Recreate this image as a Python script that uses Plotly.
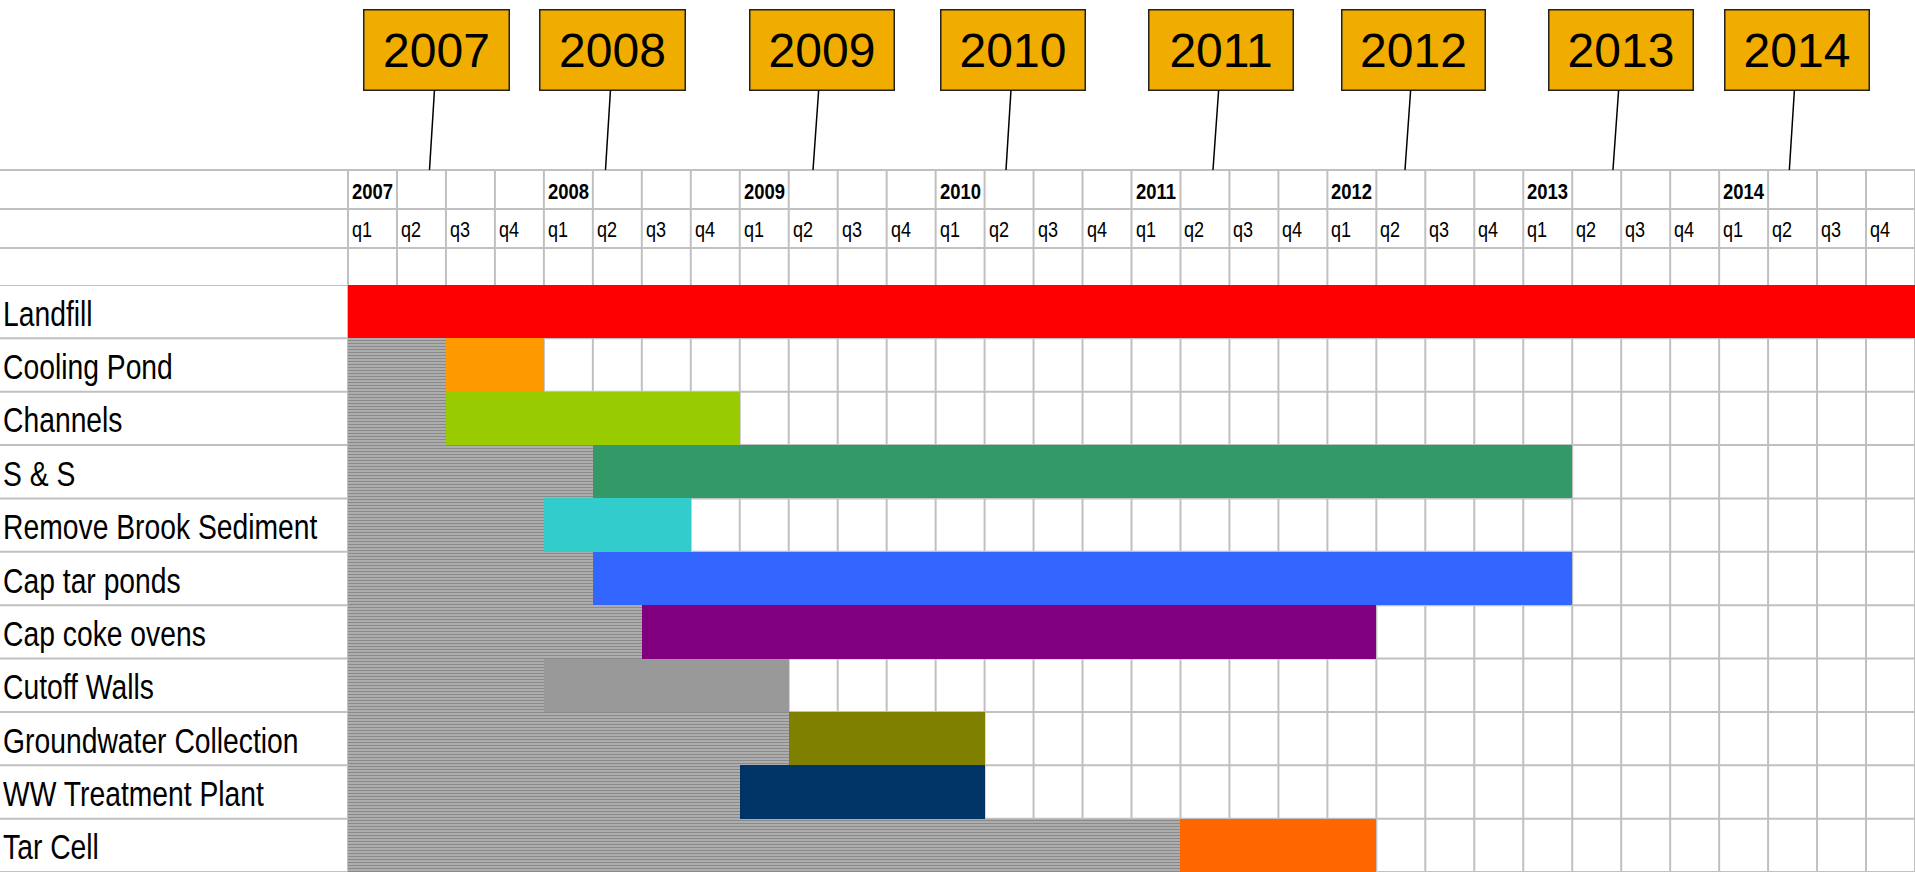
import plotly.graph_objects as go

# ---------------- data ----------------
tasks = ["Landfill", "Cooling Pond", "Channels", "S & S", "Remove Brook Sediment",
         "Cap tar ponds", "Cap coke ovens", "Cutoff Walls", "Groundwater Collection",
         "WW Treatment Plant", "Tar Cell"]
# start / duration in quarters, counted from 2007 q1
start_q = [0, 2, 2, 5, 4, 5, 6, 4, 9, 8, 17]
duration_q = [32, 2, 6, 20, 3, 20, 15, 5, 4, 5, 4]
bar_colors = ["#FF0000", "#FF9900", "#99CC00", "#339966", "#33CCCC", "#3366FF",
              "#800080", "#999999", "#808000", "#003366", "#FF6600"]
years = [2007, 2008, 2009, 2010, 2011, 2012, 2013, 2014]
quarter_labels = ["q1", "q2", "q3", "q4"]

# callout boxes (layout): anchor on the timeline in quarter units, box offset/width in px
callout_x = [1.664, 5.258, 9.496, 13.437, 17.664, 21.585, 25.832, 29.434]
callout_dx = [7.5, 7.5, 8.5, 7.5, 8.5, 8.5, 8.5, 7.6]
callout_w = [146, 146, 145, 145, 145, 144, 145, 145]

# ---------------- layout geometry ----------------
W, H = 1915, 872
LABEL_W = 348
n_q = len(years) * 4
q_px = (W - LABEL_W) / n_q
x0 = -LABEL_W / q_px
TOP = 285
HDR = [170, 209, 248]
def py(p):
    return 1 - p / H

FONT = "Liberation Sans, Arial, sans-serif"
GRID = "#C0C0C0"

fig = go.Figure()
fig.add_trace(go.Bar(
    y=tasks, x=start_q, base=0, orientation="h",
    marker=dict(color="white", line=dict(width=0),
                pattern=dict(shape="-", fgcolor="#8A8A8A", bgcolor="white",
                             size=3, solidity=0.8, fillmode="replace")),
    showlegend=False, hoverinfo="skip"))
fig.add_trace(go.Bar(
    y=tasks, x=duration_q, base=start_q, orientation="h",
    marker=dict(color=bar_colors, line=dict(width=0)),
    showlegend=False))

shapes = []
# vertical quarter lines (chart + header)
for i in range(n_q + 1):
    shapes.append(dict(type="line", xref="x", yref="paper", x0=i, x1=i,
                       y0=0, y1=py(HDR[0]), line=dict(color=GRID, width=2), layer="below"))
# header horizontal lines
for hy in HDR:
    shapes.append(dict(type="line", xref="paper", yref="paper", x0=0, x1=1,
                       y0=py(hy), y1=py(hy), line=dict(color=GRID, width=2), layer="below"))
# row boundaries
for r in range(len(tasks) + 1):
    shapes.append(dict(type="line", xref="x", yref="y", x0=x0, x1=n_q,
                       y0=r - 0.5, y1=r - 0.5, line=dict(color=GRID, width=2), layer="below"))

annotations = []
# task labels
for t in tasks:
    annotations.append(dict(x=0, xref="paper", y=t, yref="y", text=t, showarrow=False,
                            xanchor="left", yanchor="middle", xshift=1, yshift=-2,
                            font=dict(family=FONT, size=34.5, color="black")))
# header year labels + quarter labels
for k, yr in enumerate(years):
    annotations.append(dict(x=4 * k, xref="x", y=py(191), yref="paper", text=f"<b>{yr}</b>",
                            showarrow=False, xanchor="left", yanchor="middle", xshift=2,
                            font=dict(family=FONT, size=22.5, color="black")))
    for j, ql in enumerate(quarter_labels):
        annotations.append(dict(x=4 * k + j, xref="x", y=py(229), yref="paper", text=ql,
                                showarrow=False, xanchor="left", yanchor="middle", xshift=2,
                                font=dict(family=FONT, size=22, color="black")))
n_plain = len(annotations)
# callout boxes
for k, yr in enumerate(years):
    annotations.append(dict(x=callout_x[k], xref="x", y=py(HDR[0]), yref="paper",
                            text=str(yr), showarrow=True, arrowhead=0, arrowwidth=1.5,
                            arrowcolor="black", ax=callout_dx[k], ay=50 - HDR[0],
                            axref="pixel", ayref="pixel",
                            bgcolor="#F0AD00", bordercolor="#222222", borderwidth=1.5,
                            borderpad=0, width=callout_w[k] - 2, height=79,
                            font=dict(family=FONT, size=48, color="black")))

fig.update_layout(
    width=W, height=H, autosize=False,
    margin=dict(l=0, r=0, t=0, b=0, pad=0),
    paper_bgcolor="white", plot_bgcolor="white",
    barmode="overlay", bargap=0,
    xaxis=dict(range=[x0, n_q], domain=[0, 1], showgrid=False, zeroline=False,
               showticklabels=False, showline=False, fixedrange=True),
    yaxis=dict(type="category", categoryorder="array", categoryarray=tasks,
               range=[len(tasks) - 0.5, -0.5], domain=[0, py(TOP)],
               showgrid=False, zeroline=False, showticklabels=False, showline=False,
               fixedrange=True),
    shapes=shapes, annotations=annotations,
)

# condense the (Arial-metric) label text horizontally to mimic Arial Narrow, remove page margin
post_js = """
document.body.style.margin = '0';
document.body.style.overflow = 'hidden';
var gd = document.getElementById('{plot_id}');
gd.querySelectorAll('g.annotation').forEach(function(g){
  var idx = +g.getAttribute('data-index');
  if (idx >= NPLAIN) return;
  var t = g.querySelector('text.annotation-text');
  if (!t) return;
  t.style.transformBox = 'fill-box';
  t.style.transformOrigin = 'left center';
  t.style.transform = 'scaleX(0.82)';
});
""".replace("NPLAIN", str(n_plain))

fig.write_html("out.html", post_script=post_js, config={"displayModeBar": False})
